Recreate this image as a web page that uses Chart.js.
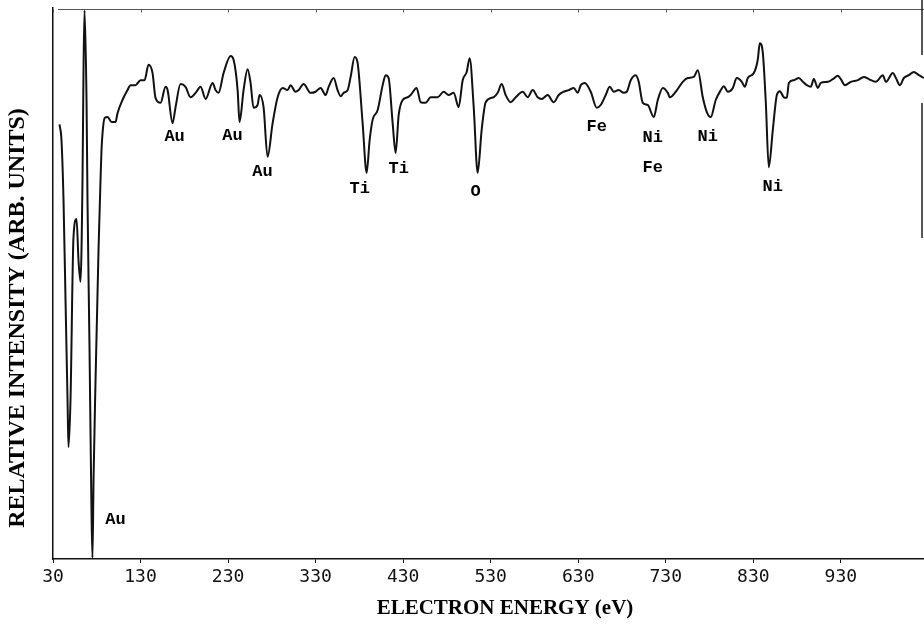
<!DOCTYPE html>
<html>
<head>
<meta charset="utf-8">
<script src="https://cdn.jsdelivr.net/npm/chart.js@4.4.1/dist/chart.umd.min.js"></script>
<style>
  html, body { margin: 0; padding: 0; background: #fff; }
  #wrap { width: 924px; height: 624px; }
</style>
</head>
<body>
<div id="wrap"><canvas id="spectrum" width="924" height="624"></canvas></div>
<script>
// auger spectrum, values (eV / arb. units 0-100)
const energy = [
  37.4, 39.7, 42.0, 44.3, 46.6, 47.7, 50.0, 53.4, 56.9, 59.1, 61.4, 63.7, 64.9, 66.0, 68.3, 69.4,
  71.7, 74.0, 75.1, 76.3, 78.6, 82.0, 84.3, 85.4, 86.6, 88.9, 92.3, 96.9, 101.4, 103.7, 109.4, 115.1,
  118.6, 124.3, 130.0, 134.6, 139.1, 143.7, 147.1, 152.9, 158.6, 160.9, 166.6, 170.0, 175.7, 181.4,
  187.1, 192.9, 198.6, 204.3, 212.3, 215.7, 219.1, 224.9, 232.9, 236.3, 240.9, 243.1, 247.7, 252.3,
  255.7, 259.1, 263.7, 266.0, 270.6, 275.1, 280.9, 286.6, 292.3, 298.0, 301.4, 307.1, 310.6, 316.3,
  324.3, 330.0, 335.7, 341.4, 344.9, 350.6, 355.1, 358.6, 362.0, 366.6, 370.0, 374.6, 378.0, 383.7,
  388.3, 391.7, 395.1, 400.9, 406.6, 410.0, 413.4, 418.0, 421.4, 424.9, 429.4, 435.1, 438.6, 445.4,
  450.0, 455.7, 461.4, 469.4, 476.3, 482.0, 487.7, 493.4, 498.0, 502.6, 506.0, 510.6, 515.1, 519.7,
  524.3, 533.4, 538.0, 542.6, 547.1, 552.9, 558.6, 566.6, 572.3, 578.0, 583.7, 588.3, 595.1, 602.0,
  607.7, 613.4, 619.1, 624.9, 629.4, 632.9, 637.4, 644.3, 651.1, 655.7, 661.4, 666.0, 670.6, 676.3,
  682.0, 685.4, 690.0, 695.7, 699.1, 703.7, 709.4, 716.3, 720.9, 726.6, 732.3, 734.6, 741.4, 749.4,
  755.1, 762.0, 766.6, 772.3, 776.9, 781.4, 787.1, 792.9, 796.3, 800.9, 806.6, 811.1, 816.9, 820.3,
  823.7, 830.6, 835.1, 837.4, 840.9, 844.3, 847.7, 852.3, 856.9, 860.3, 864.9, 868.3, 870.6, 876.3,
  882.0, 886.6, 891.1, 895.7, 899.1, 903.7, 907.1, 915.1, 920.9, 926.6, 930.0, 934.6, 941.4, 949.4,
  956.3, 962.0, 970.0, 978.0, 981.4, 989.4, 992.9, 997.4, 1002.0, 1007.7, 1013.4, 1019.1, 1024.9
];
const intensity = [
  78.9, 76.0, 65.2, 47.0, 28.9, 20.3, 28.9, 58.4, 61.7, 54.3, 50.3, 68.8, 89.3, 99.6, 83.3, 65.2,
  38.5, 8.3, 0.2, 14.3, 32.5, 56.1, 68.8, 74.2, 77.3, 80.0, 80.2, 79.3, 79.3, 80.9, 83.3, 85.1,
  86.0, 86.0, 86.9, 86.9, 89.7, 88.2, 83.7, 82.8, 85.7, 85.1, 79.1, 82.0, 86.2, 85.7,
  83.8, 84.6, 85.7, 83.5, 86.4, 85.1, 84.6, 88.2, 91.3, 90.6, 85.1, 79.3, 85.1, 88.9,
  86.4, 81.9, 82.4, 84.2, 81.9, 73.0, 79.1, 83.8, 85.5, 85.1, 86.0, 84.8, 85.1, 86.2,
  84.6, 84.8, 85.5, 84.2, 85.7, 87.3, 85.1, 84.0, 84.6, 85.1, 87.5, 91.1, 90.0, 79.1,
  70.1, 76.0, 79.7, 81.5, 86.0, 87.8, 87.3, 79.1, 73.7, 80.6, 83.3, 83.8, 84.2, 85.5,
  82.9, 82.8, 83.8, 83.8, 84.8, 84.2, 84.6, 82.0, 86.9, 88.4, 90.9, 82.0, 70.1, 77.9,
  82.9, 83.8, 84.6, 86.2, 84.2, 82.9, 83.8, 84.8, 83.8, 85.1, 83.8, 83.5, 84.2, 82.9,
  84.2, 84.8, 85.1, 85.5, 84.6, 86.0, 86.4, 84.8, 81.9, 82.4, 84.2, 85.7, 84.8, 85.1,
  84.6, 84.8, 86.9, 87.8, 86.6, 82.8, 82.4, 80.2, 83.3, 85.5, 84.6, 83.8, 84.8, 86.6,
  87.3, 87.5, 88.7, 83.8, 81.1, 80.2, 83.3, 85.1, 85.8, 84.8, 85.5, 87.3, 86.6, 85.7,
  87.3, 88.2, 90.6, 93.6, 91.8, 82.8, 71.1, 77.9, 84.2, 84.9, 83.8, 83.7, 86.4, 86.9,
  87.3, 86.6, 86.0, 85.7, 87.1, 85.5, 86.4, 86.6, 87.1, 87.7, 87.1, 86.0, 86.6, 86.9,
  87.5, 87.1, 86.6, 87.8, 86.6, 88.2, 87.3, 86.0, 87.3, 87.8, 88.4, 87.8, 87.3
];
const xTicks = [30, 130, 230, 330, 430, 530, 630, 730, 830, 930];

// peak assignments, placed at (energy, level) in data units
const peakNames = ["Au", "Au", "Au", "Au", "Ti", "Ti", "O", "Fe", "Ni", "Fe", "Ni", "Ni"];
const peakEnergy = [101.4, 168.9, 235.1, 269.4, 380.3, 424.9, 512.9, 651.1, 715.1, 715.1, 777.9, 852.3];
const peakLevel = [7.1, 76.6, 76.8, 70.2, 67.2, 70.8, 66.6, 78.4, 76.4, 71.0, 76.6, 67.5];

const points = energy.map((e, i) => ({ x: e, y: intensity[i] }));

// frame, peak labels, axis titles
const decorations = {
    id: "decorations",
    afterDraw(chart) {
        const { ctx, chartArea: a, scales: { x, y } } = chart;
        ctx.save();

        // top frame line with little ticks
        ctx.strokeStyle = "#555";
        ctx.lineWidth = 1;
        ctx.beginPath();
        ctx.moveTo(a.left + 5, a.top + 1.5);
        ctx.lineTo(a.right, a.top + 1.5);
        xTicks.forEach(v => {
            const px = Math.round(x.getPixelForValue(v)) + 0.5;
            ctx.moveTo(px, a.top + 1.5);
            ctx.lineTo(px, a.top + 4.5);
        });
        ctx.stroke();

        // right frame, only partly printed
        ctx.strokeStyle = "#222";
        ctx.lineWidth = 1.5;
        ctx.beginPath();
        ctx.moveTo(a.right - 2, 0);
        ctx.lineTo(a.right - 2, a.top + 47);
        ctx.moveTo(a.right - 2, a.top + 95);
        ctx.lineTo(a.right - 2, a.top + 230);
        ctx.stroke();

        // peak labels
        ctx.fillStyle = "#000";
        ctx.textAlign = "center";
        ctx.textBaseline = "middle";
        ctx.font = "bold 17px 'Liberation Mono'";
        peakNames.forEach((n, i) => {
            ctx.fillText(n, x.getPixelForValue(peakEnergy[i]), y.getPixelForValue(peakLevel[i]));
        });

        // axis titles
        ctx.font = "bold 21px 'Liberation Serif'";
        ctx.fillText("ELECTRON ENERGY (eV)", 505, 609);
        ctx.font = "bold 24px 'Liberation Serif'";
        ctx.translate(18, 318);
        ctx.rotate(-Math.PI / 2);
        ctx.fillText("RELATIVE INTENSITY (ARB. UNITS)", 0, 0);
        ctx.restore();
    }
};

new Chart(document.getElementById("spectrum"), {
    type: "line",
    data: {
        datasets: [{
            data: points,
            borderColor: "#111",
            borderWidth: 2,
            pointRadius: 0,
            cubicInterpolationMode: "monotone", // no overshoot at the sharp dips
            fill: false
        }]
    },
    options: {
        responsive: false,
        animation: false,
        devicePixelRatio: 1,
        layout: { padding: { top: 8, right: 0, left: 0, bottom: 0 } },
        plugins: {
            legend: { display: false },
            tooltip: { enabled: false }
        },
        scales: {
            x: {
                type: "linear",
                min: 30,
                max: 1025,
                afterBuildTicks: s => { s.ticks = xTicks.map(v => ({ value: v })); },
                afterFit: s => { s.height = 65; },
                border: { display: true, color: "#111", width: 1.5 },
                grid: { drawOnChartArea: false, tickLength: 4, color: "#111" },
                ticks: {
                    autoSkip: false,
                    maxRotation: 0,
                    padding: 4,
                    color: "#111",
                    font: { family: "'DejaVu Sans Mono'", size: 18 }
                }
            },
            y: {
                min: 0,
                max: 100,
                afterFit: s => { s.width = 53; },
                border: { display: true, color: "#111", width: 1.5 },
                grid: { display: false },
                ticks: { display: false }
            }
        }
    },
    plugins: [decorations]
});
</script>
</body>
</html>
